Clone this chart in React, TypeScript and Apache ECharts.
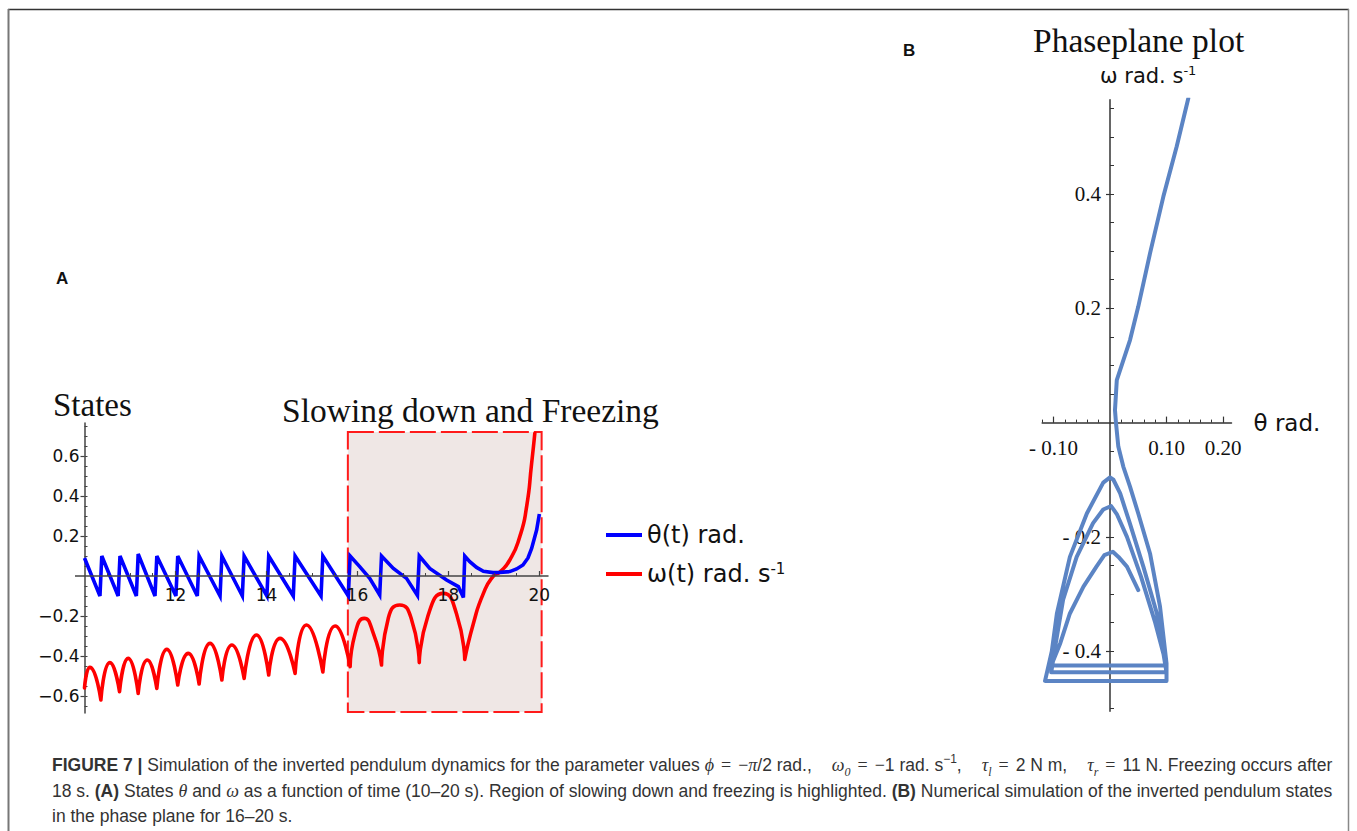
import { useEffect, useRef } from 'react';
import * as echarts from 'echarts';

// ---------- Panel A: states vs time ----------
const thetaPoints: number[][] = [
  [10.0, 0.09], [10.34, -0.1], [10.38, 0.1], [10.74, -0.1], [10.78, 0.1], [11.14, -0.1], [11.18, 0.11],
  [11.55, -0.1], [11.59, 0.1], [12.01, -0.1], [12.05, 0.1], [12.48, -0.1], [12.52, 0.1], [12.98, -0.1],
  [13.02, 0.1], [13.47, -0.1], [13.51, 0.1], [14.01, -0.1], [14.05, 0.1], [14.59, -0.1], [14.63, 0.1],
  [15.2, -0.1], [15.24, 0.1], [15.8, -0.1], [15.84, 0.1], [16.05, 0.047], [16.27, -0.012], [16.49, -0.095],
  [16.53, 0.1], [16.79, 0.038], [17.08, -0.012], [17.32, -0.097], [17.36, 0.1], [17.59, 0.038],
  [17.96, -0.02], [18.22, -0.053], [18.33, -0.107], [18.36, 0.1], [18.47, 0.072], [18.62, 0.043],
  [18.77, 0.024], [18.98, 0.017], [19.13, 0.018], [19.35, 0.022], [19.5, 0.035], [19.64, 0.055],
  [19.75, 0.09], [19.83, 0.138], [19.94, 0.23], [20.0, 0.31],
];

const omegaArches: number[][][] = [
  [[10.0, -0.56], [10.12, -0.457], [10.36, -0.62]],
  [[10.36, -0.62], [10.56, -0.433], [10.77, -0.578]],
  [[10.77, -0.578], [10.96, -0.412], [11.18, -0.587]],
  [[11.18, -0.587], [11.38, -0.42], [11.59, -0.562]],
  [[11.59, -0.562], [11.81, -0.367], [12.05, -0.545]],
  [[12.05, -0.545], [12.28, -0.387], [12.52, -0.54]],
  [[12.52, -0.54], [12.76, -0.337], [13.02, -0.52]],
  [[13.02, -0.52], [13.24, -0.345], [13.51, -0.512]],
  [[13.51, -0.512], [13.78, -0.295], [14.05, -0.495]],
  [[14.05, -0.495], [14.3, -0.312], [14.63, -0.487]],
  [[14.63, -0.487], [14.88, -0.245], [15.24, -0.48]],
  [[15.24, -0.48], [15.51, -0.25], [15.84, -0.453]],
  [[15.84, -0.453], [15.95, -0.287], [16.15, -0.212], [16.35, -0.287], [16.53, -0.445]],
  [[16.53, -0.445], [16.68, -0.21], [16.93, -0.145], [17.18, -0.21], [17.36, -0.433]],
  [[17.36, -0.433], [17.55, -0.2], [17.89, -0.087], [18.18, -0.19], [18.36, -0.417]],
  [[18.36, -0.417], [18.55, -0.237], [18.77, -0.087], [18.98, -0.003], [19.13, 0.02], [19.35, 0.08],
    [19.57, 0.197], [19.72, 0.347], [19.83, 0.563], [19.9, 0.713]],
];

const highlightBox = { t0: 15.79, t1: 20.05, v0: -0.68, v1: 0.72 };

const aMajorX = [12, 14, 16, 18, 20];
const aMinorX = [10.5, 11, 11.5, 12.5, 13, 13.5, 14.5, 15, 15.5, 16.5, 17, 17.5, 18.5, 19, 19.5];
const aMajorY = [-0.6, -0.4, -0.2, 0.2, 0.4, 0.6];
const aMinorY = [-0.65, -0.6, -0.55, -0.5, -0.45, -0.4, -0.35, -0.3, -0.25, -0.2, -0.15, -0.1, -0.05,
  0.05, 0.1, 0.15, 0.2, 0.25, 0.3, 0.35, 0.4, 0.45, 0.5, 0.55, 0.6, 0.65, 0.7, 0.75];

// ---------- Panel B: phase plane ----------
const phasePoints: number[][] = [
  [0.05, -0.293], [0.03, -0.252], [0.015, -0.235], [0.005, -0.226],
  [-0.01, -0.232], [-0.024, -0.252], [-0.047, -0.287], [-0.071, -0.334], [-0.088, -0.386], [-0.104, -0.425],
  [0.1, -0.425],
  [0.08, -0.35], [0.055, -0.27], [0.03, -0.2], [0.012, -0.16], [0.002, -0.146],
  [-0.012, -0.152], [-0.03, -0.176], [-0.059, -0.235], [-0.083, -0.31], [-0.097, -0.392], [-0.104, -0.437],
  [0.1, -0.437],
  [0.083, -0.334], [0.059, -0.252], [0.035, -0.176], [0.018, -0.124], [0.006, -0.1], [0.0, -0.096],
  [-0.012, -0.105], [-0.041, -0.159], [-0.071, -0.235], [-0.094, -0.334], [-0.103, -0.4], [-0.115, -0.452],
  [0.1, -0.452],
  [0.1, -0.421], [0.0885, -0.322], [0.0708, -0.229], [0.05, -0.159], [0.0354, -0.112], [0.0235, -0.077],
  [0.0147, -0.042], [0.0106, -0.001], [0.0088, 0.022], [0.012, 0.0745], [0.0354, 0.1445], [0.05, 0.203],
  [0.0708, 0.296], [0.0943, 0.395], [0.118, 0.483], [0.1386, 0.5675],
];

const bMajorX = [-0.1, 0.1, 0.2];
const bMinorX = [-0.12, -0.1, -0.08, -0.06, -0.04, -0.02, 0.02, 0.04, 0.06, 0.08, 0.1, 0.12, 0.14, 0.16, 0.18, 0.2];
const bMajorY = [-0.4, -0.2, 0.2, 0.4];
const bMinorY = [-0.5, -0.45, -0.4, -0.35, -0.3, -0.25, -0.2, -0.15, -0.1, -0.05,
  0.05, 0.1, 0.15, 0.2, 0.25, 0.3, 0.35, 0.4, 0.45, 0.5, 0.55];

const captionLines = [
  '{b|FIGURE 7 |} Simulation of the inverted pendulum dynamics for the parameter values {m|ϕ}{eq|=}{o|−}{m|π}/2 rad.,{g| }{m|ω}{sub|0}{eq|=}{o|−}1 rad. s{sup|−1},{g| }{m|τ}{sub|l}{eq|=}2 N m,{g| }{m|τ}{sub|r}{eq|=}11 N. Freezing occurs after',
  '18 s. {b|(A)} States {m|θ} and {m|ω} as a function of time (10–20 s). Region of slowing down and freezing is highlighted. {b|(B)} Numerical simulation of the inverted pendulum states',
  'in the phase plane for 16–20 s.',
];

const SANS = 'DejaVu Sans';
const SERIF = 'Liberation Serif';
const CAP = 'Liberation Sans';

function fmtA(v: number) {
  return v < 0 ? '−' + Math.abs(v).toFixed(1) : v.toFixed(1);
}

// grid geometry (pixels)
const gA = { left: 84.5, right: 809, top: 423, bottom: 118 };
const gB = { left: 1042.2, right: 125.5, top: 99.7, bottom: 119.8 };
const yRangeA = [-0.685, 0.765];
const xRangeA = [10, 20.19];
const xRangeB = [-0.12, 0.215];
const yRangeB = [-0.505, 0.565];

export default function App() {
  const ref = useRef<HTMLDivElement>(null);
  useEffect(() => {
    const chart = echarts.init(ref.current!, null, { renderer: 'svg' });

    const omegaData: any[] = [];
    omegaArches.forEach((arch, i) => {
      if (i > 0) omegaData.push(['-', '-']);
      arch.forEach((p) => omegaData.push(p));
    });

    // offsets that bring each axis to the zero of the other axis
    const hA = 831 - gA.top - gA.bottom;
    const zeroYA = gA.top + (yRangeA[1] / (yRangeA[1] - yRangeA[0])) * hA;
    const offXA = -((831 - gA.bottom) - zeroYA);
    const hB = 831 - gB.top - gB.bottom;
    const zeroYB = gB.top + (yRangeB[1] / (yRangeB[1] - yRangeB[0])) * hB;
    const offXB = -((831 - gB.bottom) - zeroYB);
    const wB = 1357 - gB.left - gB.right;
    const zeroXB = gB.left + (-xRangeB[0] / (xRangeB[1] - xRangeB[0])) * wB;
    const offYB = -(zeroXB - gB.left);

    const axisColA = '#444';
    const axisColB = '#333';
    const CF = 17.5;

    const capRich: any = {
      b: { fontFamily: CAP, fontSize: CF, fontWeight: 'bold', fill: '#333', lineHeight: 25 },
      m: { fontFamily: SERIF, fontSize: 18, fontStyle: 'italic', fill: '#333', lineHeight: 25 },
      eq: { fontFamily: SERIF, fontSize: 18, fill: '#333', lineHeight: 25, padding: [0, 7, 0, 7] },
      o: { fontFamily: SERIF, fontSize: 18, fill: '#333', lineHeight: 25 },
      g: { fontFamily: CAP, fontSize: CF, fill: '#333', lineHeight: 25, width: 20 },
      sub: { fontFamily: SERIF, fontSize: 12, fontStyle: 'italic', fill: '#333', lineHeight: 17, verticalAlign: 'bottom' },
      sup: { fontFamily: CAP, fontSize: 12, fill: '#333', lineHeight: 14, verticalAlign: 'top' },
    };

    const option: any = {
      animation: false,
      backgroundColor: '#ffffff',
      grid: [gA, gB],
      xAxis: [
        {
          type: 'value', gridIndex: 0, min: xRangeA[0], max: xRangeA[1], position: 'bottom', offset: offXA, z: 10,
          axisLine: { show: true, onZero: false, lineStyle: { color: axisColA, width: 1.5 } },
          axisTick: { show: true, inside: true, length: 5, customValues: aMajorX, lineStyle: { color: axisColA, width: 1.2 } },
          axisLabel: { show: true, customValues: aMajorX, margin: 10, fontSize: 17, fontFamily: SANS, color: '#111' },
          splitLine: { show: false },
        },
        {
          type: 'value', gridIndex: 0, min: xRangeA[0], max: xRangeA[1], position: 'bottom', offset: offXA, z: 10,
          axisLine: { show: false, onZero: false },
          axisTick: { show: true, inside: true, length: 3, customValues: aMinorX, lineStyle: { color: axisColA, width: 1 } },
          axisLabel: { show: false },
          splitLine: { show: false },
        },
        {
          type: 'value', gridIndex: 1, min: xRangeB[0], max: xRangeB[1], position: 'bottom', offset: offXB,
          axisLine: { show: true, onZero: false, lineStyle: { color: axisColB, width: 1.5 } },
          axisTick: { show: true, inside: true, length: 6, customValues: bMajorX, lineStyle: { color: axisColB, width: 1.2 } },
          axisLabel: {
            show: true, customValues: bMajorX, margin: 15, fontSize: 21, fontFamily: SERIF, color: '#111',
            formatter: (v: number) => (v < 0 ? '- ' + Math.abs(v).toFixed(2) : v.toFixed(2)),
          },
          name: 'θ rad.', nameLocation: 'end', nameGap: 22,
          nameTextStyle: { fontSize: 23, fontFamily: SANS, color: '#111', verticalAlign: 'middle' },
          splitLine: { show: false },
        },
        {
          type: 'value', gridIndex: 1, min: xRangeB[0], max: xRangeB[1], position: 'bottom', offset: offXB,
          axisLine: { show: false, onZero: false },
          axisTick: { show: true, inside: true, length: 3, customValues: bMinorX, lineStyle: { color: axisColB, width: 1 } },
          axisLabel: { show: false },
          splitLine: { show: false },
        },
      ],
      yAxis: [
        {
          type: 'value', gridIndex: 0, min: yRangeA[0], max: yRangeA[1], position: 'left',
          axisLine: { show: true, onZero: false, lineStyle: { color: axisColA, width: 1.5 } },
          axisTick: { show: true, inside: false, length: 4, customValues: aMajorY, lineStyle: { color: axisColA, width: 1.2 } },
          axisLabel: { show: true, customValues: aMajorY, margin: 5, fontSize: 17, fontFamily: SANS, color: '#111', formatter: fmtA },
          splitLine: { show: false },
        },
        {
          type: 'value', gridIndex: 0, min: yRangeA[0], max: yRangeA[1], position: 'left',
          axisLine: { show: false, onZero: false },
          axisTick: { show: true, inside: true, length: 3, customValues: aMinorY, lineStyle: { color: axisColA, width: 1 } },
          axisLabel: { show: false },
          splitLine: { show: false },
        },
        {
          type: 'value', gridIndex: 1, min: yRangeB[0], max: yRangeB[1], position: 'left', offset: offYB,
          axisLine: { show: true, onZero: false, lineStyle: { color: axisColB, width: 1.5 } },
          axisTick: { show: true, inside: false, length: 4, customValues: bMajorY, lineStyle: { color: axisColB, width: 1.2 } },
          axisLabel: {
            show: true, customValues: bMajorY, margin: 9, fontSize: 21, fontFamily: SERIF, color: '#111',
            formatter: (v: number) => (v < 0 ? '- ' + Math.abs(v).toFixed(1) : v.toFixed(1)),
          },
          splitLine: { show: false },
        },
        {
          type: 'value', gridIndex: 1, min: yRangeB[0], max: yRangeB[1], position: 'left', offset: offYB,
          axisLine: { show: false, onZero: false },
          axisTick: { show: true, inside: true, length: 4, customValues: bMinorY, lineStyle: { color: axisColB, width: 1 } },
          axisLabel: { show: false },
          splitLine: { show: false },
        },
      ],
      legend: {
        show: true,
        data: ['theta', 'omega'],
        left: 601, top: 517, orient: 'vertical',
        icon: 'rect', itemWidth: 36, itemHeight: 4, itemGap: 13,
        selectedMode: false,
        formatter: (name: string) => (name === 'theta' ? '{t|θ(t) rad.}' : '{t|ω(t) rad. s}{sup|-1}'),
        textStyle: {
          fontFamily: SANS, fontSize: 24, color: '#111', lineHeight: 26,
          rich: {
            t: { fontFamily: SANS, fontSize: 24, color: '#111', lineHeight: 26 },
            sup: { fontFamily: SANS, fontSize: 15, color: '#111', lineHeight: 10, verticalAlign: 'top' },
          },
        },
      },
      series: [
        {
          name: 'theta', type: 'line', xAxisIndex: 0, yAxisIndex: 0, data: thetaPoints,
          showSymbol: false, symbol: 'none', color: '#0000ff', z: 4,
          lineStyle: { color: '#0000ff', width: 3.6, join: 'miter' },
          markArea: {
            silent: true,
            itemStyle: { color: '#efe7e5', borderColor: '#ff1a1a', borderWidth: 2, borderType: [26, 5] },
            data: [[{ xAxis: highlightBox.t0, yAxis: highlightBox.v1 }, { xAxis: highlightBox.t1, yAxis: highlightBox.v0 }]],
          },
        },
        {
          name: 'omega', type: 'line', xAxisIndex: 0, yAxisIndex: 0, data: omegaData,
          showSymbol: false, symbol: 'none', color: '#ff0000', smooth: 0.6, connectNulls: false, z: 3,
          lineStyle: { color: '#ff0000', width: 3.6, cap: 'round' },
        },
        {
          name: 'phase', type: 'line', xAxisIndex: 2, yAxisIndex: 2, data: phasePoints,
          showSymbol: false, symbol: 'none', color: '#5b84c4', z: 3,
          lineStyle: { color: '#5b84c4', width: 4, join: 'round', cap: 'round' },
        },
      ],
      graphic: [
        { type: 'line', shape: { x1: 8, y1: 9.5, x2: 1349, y2: 9.5 }, style: { stroke: '#333', lineWidth: 1.5 } },
        { type: 'line', shape: { x1: 8.5, y1: 9, x2: 8.5, y2: 831 }, style: { stroke: '#777', lineWidth: 2 } },
        { type: 'line', shape: { x1: 1348.5, y1: 9, x2: 1348.5, y2: 831 }, style: { stroke: '#888', lineWidth: 1.5 } },
        { type: 'line', shape: { x1: 75, y1: zeroYA, x2: gA.left, y2: zeroYA }, style: { stroke: axisColA, lineWidth: 1.5 } },
        { type: 'text', x: 56, y: 278, style: { text: 'A', fontFamily: CAP, fontWeight: 'bold', fontSize: 17, fill: '#111', align: 'left', verticalAlign: 'middle' } },
        { type: 'text', x: 903, y: 50, style: { text: 'B', fontFamily: CAP, fontWeight: 'bold', fontSize: 17, fill: '#111', align: 'left', verticalAlign: 'middle' } },
        { type: 'text', x: 53, y: 405, style: { text: 'States', fontFamily: SERIF, fontSize: 33, fill: '#111', align: 'left', verticalAlign: 'middle' } },
        { type: 'text', x: 282, y: 410, style: { text: 'Slowing down and Freezing', fontFamily: SERIF, fontSize: 33.5, fill: '#111', align: 'left', verticalAlign: 'middle' } },
        { type: 'text', x: 1033, y: 40, style: { text: 'Phaseplane plot', fontFamily: SERIF, fontSize: 33.5, fill: '#111', align: 'left', verticalAlign: 'middle' } },
        {
          type: 'text', x: 1100, y: 76,
          style: {
            text: '{a|ω rad. s}{s|-1}', align: 'left', verticalAlign: 'middle',
            fontFamily: SANS, fontSize: 21, fill: '#111',
            rich: {
              a: { fontFamily: SANS, fontSize: 21, fill: '#111', lineHeight: 24 },
              s: { fontFamily: SANS, fontSize: 13, fill: '#111', lineHeight: 12, verticalAlign: 'top' },
            },
          },
        },
        ...captionLines.map((line, i) => ({
          type: 'text', x: 52, y: 765 + i * 25.5,
          style: {
            text: line, align: 'left', verticalAlign: 'middle',
            fontFamily: CAP, fontSize: CF, fill: '#333', lineHeight: 25,
            rich: capRich,
          },
        })),
      ],
    };

    chart.setOption(option);
    return () => chart.dispose();
  }, []);

  return (
    <div
      ref={ref}
      style={{ position: 'fixed', left: 0, top: 0, width: 1357, height: 831, background: '#ffffff' }}
    />
  );
}
